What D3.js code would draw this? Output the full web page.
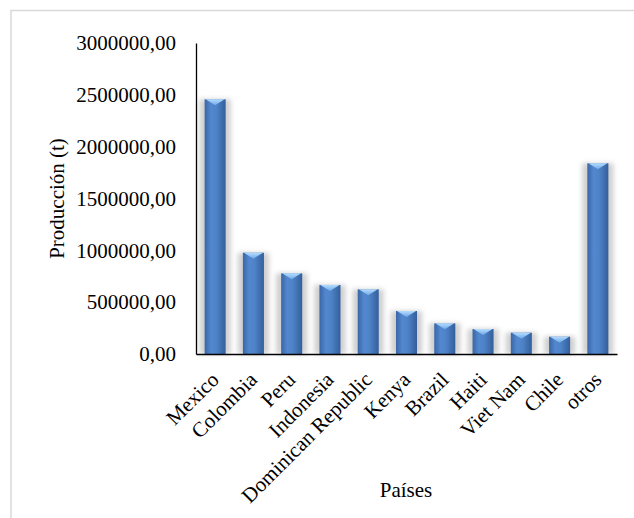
<!DOCTYPE html>
<html lang="es">
<head>
  <meta charset="UTF-8">
  <title>Producción por país</title>
  <script src="https://d3js.org/d3.v7.min.js"></script>
  <style>
    html, body { margin: 0; padding: 0; background: #fff; }
  </style>
</head>
<body>
  <div class="canvas"></div>
  <script>
    // datos
    const paises = ['Mexico', 'Colombia', 'Peru', 'Indonesia', 'Dominican Republic',
                    'Kenya', 'Brazil', 'Haiti', 'Viet Nam', 'Chile', 'otros'];
    const produccion = [2457000, 977000, 778000, 666000, 624000,
                        415000, 296000, 241000, 206000, 167000, 1840000];
    const yTicks = [0, 500000, 1000000, 1500000, 2000000, 2500000, 3000000];

    const FONT = '"Liberation Serif", "Times New Roman", serif';
    const width = 634;
    const height = 518;
    const [mt, mr, mb, ml] = [43, 17, 164, 196];
    const graphWidth = width - ml - mr;
    const graphHeight = height - mt - mb;

    const svg = d3.select('.canvas')
                  .append('svg')
                  .attr('width', width)
                  .attr('height', height)
                  .attr('font-family', FONT);

    // marco del gráfico
    svg.append('rect')
       .attr('x', 11).attr('y', 10.5)
       .attr('width', width).attr('height', height)
       .attr('fill', 'none')
       .attr('stroke', '#d9d9d9')
       .attr('stroke-width', 1.5);

    const defs = svg.append('defs');

    const grad = defs.append('linearGradient')
                     .attr('id', 'barra')
                     .attr('x1', '0%').attr('x2', '100%')
                     .attr('y1', '0%').attr('y2', '0%');
    grad.append('stop').attr('offset', '0%').attr('stop-color', '#3a66a6');
    grad.append('stop').attr('offset', '30%').attr('stop-color', '#5288cf');
    grad.append('stop').attr('offset', '55%').attr('stop-color', '#4f83c8');
    grad.append('stop').attr('offset', '100%').attr('stop-color', '#335f9c');

    const capGrad = defs.append('linearGradient')
                        .attr('id', 'tapa')
                        .attr('x1', '0%').attr('x2', '0%')
                        .attr('y1', '0%').attr('y2', '100%');
    capGrad.append('stop').attr('offset', '0%').attr('stop-color', '#b5dcff');
    capGrad.append('stop').attr('offset', '100%').attr('stop-color', '#6fa8e6');

    const sombra = defs.append('filter')
                       .attr('id', 'sombra')
                       .attr('x', '-50%').attr('y', '-20%')
                       .attr('width', '200%').attr('height', '140%');
    sombra.append('feGaussianBlur').attr('stdDeviation', 2.5);

    const graph = svg.append('g')
                     .attr('transform', `translate(${ml}, ${mt})`);

    const x = d3.scaleBand()
                .domain(paises)
                .range([0, graphWidth])
                .paddingInner(0.45)
                .paddingOuter(0.225);

    const y = d3.scaleLinear()
                .domain([0, 3000000])
                .range([graphHeight, 0]);

    const datos = paises.map((p, i) => ({ pais: p, valor: produccion[i] }));

    // sombra gris detrás de cada barra
    graph.selectAll('rect.sombra')
         .data(datos)
         .enter()
         .append('rect')
         .attr('class', 'sombra')
         .attr('x', d => x(d.pais) - 5)
         .attr('y', d => y(d.valor))
         .attr('width', x.bandwidth() + 10)
         .attr('height', d => graphHeight - y(d.valor))
         .attr('fill', '#cfcfcf')
         .attr('filter', 'url(#sombra)');

    graph.selectAll('rect.barra')
         .data(datos)
         .enter()
         .append('rect')
         .attr('class', 'barra')
         .attr('x', d => x(d.pais))
         .attr('y', d => y(d.valor))
         .attr('width', x.bandwidth())
         .attr('height', d => graphHeight - y(d.valor))
         .attr('fill', 'url(#barra)');

    // brillo en forma de chevron arriba de cada barra
    graph.selectAll('path.tapa')
         .data(datos)
         .enter()
         .append('path')
         .attr('class', 'tapa')
         .attr('d', d => {
           const x0 = x(d.pais), w = x.bandwidth(), t = y(d.valor);
           return `M${x0 + 1},${t} L${x0 + w - 1},${t} L${x0 + w / 2},${t + 6} Z`;
         })
         .attr('fill', 'url(#tapa)');

    // ejes
    const yAxis = d3.axisLeft(y)
                    .tickValues(yTicks)
                    .tickSize(0)
                    .tickPadding(20)
                    .tickFormat(d => d3.format('.2f')(d).replace('.', ','));

    const yAxisG = graph.append('g').call(yAxis).attr('font-family', FONT);
    yAxisG.select('.domain').attr('stroke', '#000').attr('stroke-width', 1.3);
    yAxisG.selectAll('text')
          .attr('fill', '#000')
          .style('font-size', '21px');

    const xAxis = d3.axisBottom(x).tickSize(0).tickPadding(0);
    const xAxisG = graph.append('g')
                        .attr('transform', `translate(0, ${graphHeight})`)
                        .call(xAxis)
                        .attr('font-family', FONT);
    xAxisG.select('.domain').attr('stroke', '#000').attr('stroke-width', 1.3);
    xAxisG.selectAll('text')
          .attr('fill', '#000')
          .style('font-size', '21px')
          .attr('text-anchor', 'end')
          .attr('dy', 0)
          .attr('y', 0)
          .attr('transform', 'translate(5, 27) rotate(-45)');

    // títulos
    svg.append('text')
       .attr('transform', `translate(64, ${mt + graphHeight / 2}) rotate(-90)`)
       .attr('text-anchor', 'middle')
       .style('font-size', '21px')
       .text('Producción (t)');

    svg.append('text')
       .attr('x', 406)
       .attr('y', 497)
       .attr('text-anchor', 'middle')
       .style('font-size', '21px')
       .text('Países');
  </script>
</body>
</html>
